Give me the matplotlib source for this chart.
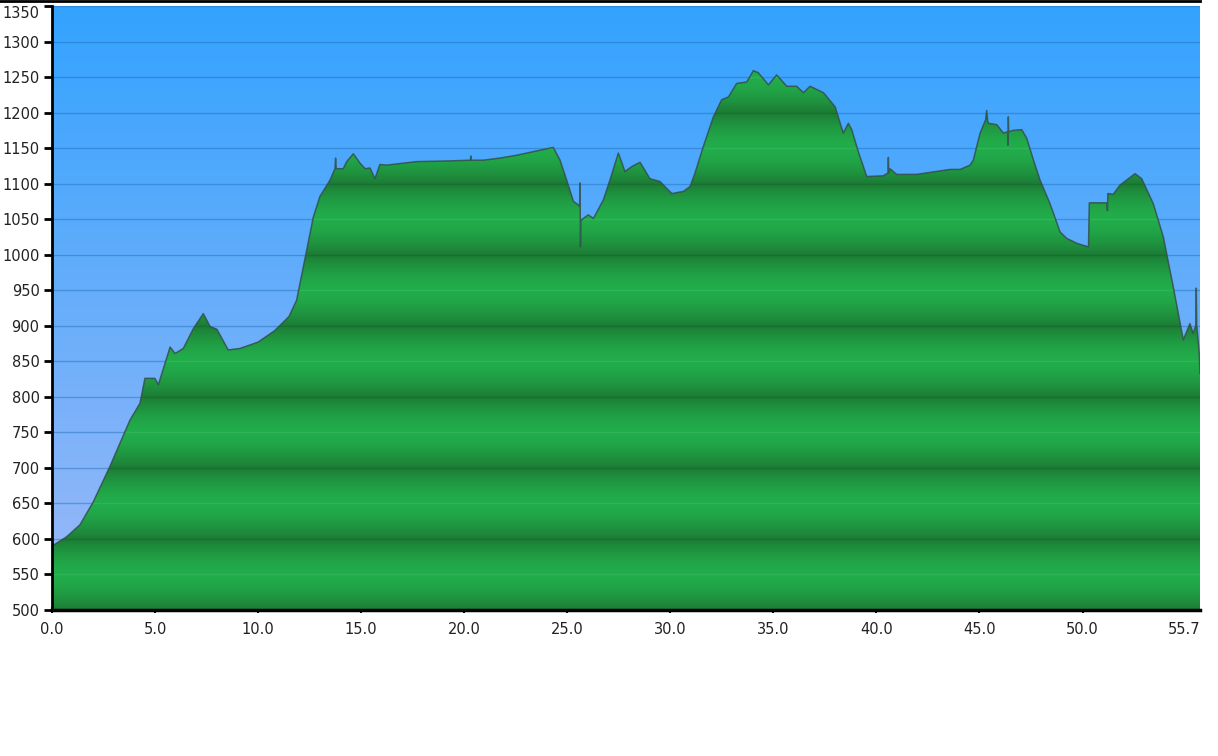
import numpy as np
import matplotlib
matplotlib.use("Agg")
import matplotlib.pyplot as plt
from matplotlib.patches import Polygon
from matplotlib.colors import to_rgb

# distance (km) / elevation (m) read from the profile
dist = [0.0, 0.06, 0.71, 1.36, 2.0, 2.81, 3.30, 3.78, 4.27, 4.51, 4.99, 5.16,
        5.73, 5.97, 6.37, 6.86, 7.34, 7.67, 8.0, 8.55, 9.12, 10.0, 10.8, 11.5,
        11.87, 12.36, 12.68, 13.0, 13.49, 13.73, 13.76, 13.79, 14.13, 14.30,
        14.62, 14.94, 15.19, 15.43, 15.67, 15.91, 16.23, 17.69, 19.31, 20.30,
        20.32, 20.34, 20.93, 21.74, 22.55, 23.52, 24.32, 24.65, 24.97, 25.30,
        25.54, 25.60, 25.62, 25.64, 25.66, 25.78, 26.02, 26.27, 26.75, 27.07,
        27.48, 27.80, 28.13, 28.53, 29.01, 29.50, 30.07, 30.63, 30.96, 31.20,
        31.60, 32.09, 32.49, 32.82, 33.22, 33.71, 34.03, 34.27, 34.76, 35.16,
        35.65, 36.13, 36.46, 36.78, 37.43, 38.0, 38.39, 38.64, 38.80, 39.12,
        39.53, 40.33, 40.56, 40.58, 40.60, 40.66, 40.98, 41.95, 43.57, 44.06,
        44.54, 44.70, 45.03, 45.30, 45.35, 45.40, 45.43, 45.84, 46.16, 46.36,
        46.38, 46.40, 46.42, 46.64, 47.05, 47.29, 47.62, 47.94, 48.42, 48.91,
        49.23, 49.72, 50.29, 50.31, 50.33, 51.17, 51.21, 51.23, 51.25, 51.49,
        51.82, 52.14, 52.55, 52.87, 53.43, 53.92, 54.40, 54.89, 55.21, 55.37,
        55.50, 55.52, 55.54, 55.66, 55.7]
elev = [590, 591, 603, 620, 652, 702, 735, 767, 791, 826, 826, 817,
        870, 861, 868, 896, 917, 899, 895, 866, 868, 877, 893, 913,
        936, 1007, 1053, 1082, 1105, 1121, 1136, 1121, 1121, 1131,
        1142, 1129, 1121, 1122, 1107, 1127, 1126, 1131, 1132, 1133,
        1139, 1133, 1133, 1136, 1140, 1146, 1151, 1133, 1105, 1075,
        1070, 1068, 1101, 1011, 1048, 1051, 1056, 1051, 1077, 1105,
        1143, 1117, 1124, 1130, 1107, 1103, 1086, 1089, 1096, 1115,
        1152, 1194, 1218, 1222, 1241, 1243, 1259, 1256, 1239, 1253,
        1237, 1237, 1228, 1237, 1228, 1208, 1171, 1185, 1176, 1145,
        1110, 1111, 1115, 1137, 1115, 1121, 1113, 1113, 1120, 1120,
        1126, 1133, 1171, 1190, 1203, 1188, 1185, 1183, 1171, 1173,
        1154, 1194, 1173, 1175, 1176, 1164, 1133, 1105, 1072, 1032,
        1023, 1016, 1011, 1042, 1073, 1073, 1062, 1086, 1086, 1085,
        1098, 1105, 1114, 1107, 1072, 1025, 955, 880, 903, 889,
        901, 953, 901, 862, 833]

y_ticks = list(range(500, 1351, 50))
x_ticks = [0.0, 5.0, 10.0, 15.0, 20.0, 25.0, 30.0, 35.0, 40.0, 45.0, 50.0, 55.7]
x_labels = ["%.1f" % v for v in x_ticks]

xmin, xmax = 0.0, 55.7
ymin, ymax = 500, 1350

fig = plt.figure(figsize=(12.18, 7.56), dpi=100)
ax = fig.add_axes([52 / 1218, 1 - 610 / 756, 1148 / 1218, 604 / 756])

# sky gradient
top = np.array(to_rgb("#33a3ff"))
bot = np.array(to_rgb("#9db9f7"))
f = np.linspace(0, 1, 400)[:, None]
sky = (top * (1 - f) + bot * f)[:, None, :]
ax.imshow(sky, extent=[xmin, xmax, ymin, ymax], aspect="auto", zorder=0,
          interpolation="bilinear")

for yv in y_ticks[1:]:
    ax.axhline(yv, color="#1f6cb8", lw=1, alpha=0.45, zorder=1)

# green banded gradient, dark at every 100 m, light at the 50s
yy = np.linspace(ymax, ymin, 1700)
d = np.abs(((yy - 500) % 100) - 50) / 50.0   # 0 at 50s, 1 at 100s
w = d ** 1.6
dark = np.array(to_rgb("#1c7c35"))
light = np.array(to_rgb("#22ad4b"))
grn = (light * (1 - w[:, None]) + dark * w[:, None])[:, None, :]
im = ax.imshow(grn, extent=[xmin, xmax, ymin, ymax], aspect="auto", zorder=2,
               interpolation="bilinear")

verts = list(zip(dist, elev)) + [(xmax, ymin), (xmin, ymin)]
poly = Polygon(verts, closed=True, facecolor="none", edgecolor="none")
ax.add_patch(poly)
im.set_clip_path(poly)

for yv in y_ticks[1:]:
    c = "#187030" if yv % 100 == 0 else "#30b457"
    ln = ax.axhline(yv, color=c, lw=1, zorder=3)
    ln.set_clip_path(poly)

ax.plot(dist, elev, color="#34504c", lw=1.1, zorder=4, alpha=0.85)

ax.set_xlim(xmin, xmax)
ax.set_ylim(ymin, ymax)
ax.set_yticks(y_ticks)
ax.set_xticks(x_ticks)
ax.set_xticklabels(x_labels)

for s in ["top", "right"]:
    ax.spines[s].set_visible(False)
ax.spines["left"].set_linewidth(2)
ax.spines["bottom"].set_linewidth(2.5)
ax.spines["left"].set_zorder(6)
ax.spines["bottom"].set_zorder(6)

ax.tick_params(axis="y", length=6, width=2, pad=3, labelsize=10.5,
               labelcolor="#222222")
ax.tick_params(axis="x", length=5, width=1.5, direction="inout", pad=6,
               labelsize=10.5, labelcolor="#222222")
ax.get_yticklabels()[-1].set_verticalalignment("top")
ax.get_xticklabels()[-1].set_horizontalalignment("right")
ax.xaxis.get_major_ticks()[-1].tick1line.set_visible(False)

fig.add_artist(plt.Line2D([0, 1200 / 1218], [0.999, 0.999], color="black", lw=2))

fig.savefig("out.png", dpi=100)
